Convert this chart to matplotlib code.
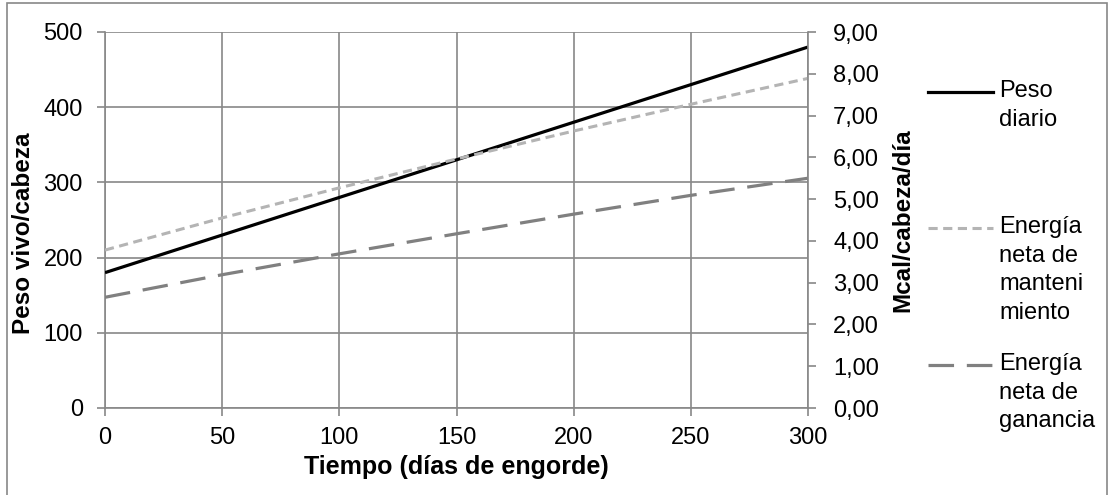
import numpy as np
import matplotlib.pyplot as plt
from matplotlib.lines import Line2D
from matplotlib.patches import Rectangle
from matplotlib.ticker import FuncFormatter

plt.rcParams['font.family'] = ['Liberation Sans', 'DejaVu Sans']

# data
dias = [0, 50, 100, 150, 200, 250, 300]
peso = [180, 230, 280, 330, 380, 430, 480]                    # kg, left axis
en_mant = [3.78, 4.55, 5.27, 5.96, 6.63, 7.27, 7.89]          # Mcal, right axis
en_gan = [2.65, 3.19, 3.69, 4.17, 4.64, 5.09, 5.50]           # Mcal, right axis

series_labels = ['Peso\ndiario', 'Energía\nneta de\nmanteni\nmiento', 'Energía\nneta de\nganancia']

W, H = 1111, 495
fig = plt.figure(figsize=(W / 100, H / 100), dpi=100)
ax = fig.add_axes([105 / W, 1 - 408 / H, (808 - 105) / W, (408 - 32) / H])
ax2 = ax.twinx()

grid_c = '#888888'
c_peso, c_mant, c_gan = 'black', '#b4b4b4', '#808080'

ax.plot(dias, peso, color=c_peso, lw=2.3, solid_capstyle='butt', zorder=3)
ax2.plot(dias, en_mant, color=c_mant, lw=2.2, dashes=(3, 1.8))
ax2.plot(dias, en_gan, color=c_gan, lw=2.3, dashes=(8, 4))

ax.set_xlim(0, 300)
ax.set_ylim(0, 500)
ax2.set_ylim(0, 9)
ax.set_xticks(range(0, 301, 50))
ax.set_yticks(range(0, 501, 100))
ax2.set_yticks(range(0, 10))
ax2.yaxis.set_major_formatter(FuncFormatter(lambda v, p: f'{v:.2f}'.replace('.', ',')))

ax.grid(True, color=grid_c, lw=1.2)
ax.set_axisbelow(True)
for a in (ax, ax2):
    for s in a.spines.values():
        s.set_visible(False)
ax.spines['left'].set_visible(True)
ax.spines['bottom'].set_visible(True)
ax2.spines['right'].set_visible(True)
for s in (ax.spines['left'], ax.spines['bottom'], ax2.spines['right']):
    s.set_color(grid_c)
    s.set_linewidth(1.2)

ax.tick_params(axis='both', length=6, width=1.2, color=grid_c, labelsize=17, pad=10)
ax2.tick_params(axis='y', length=6, width=1.2, color=grid_c, labelsize=17, pad=12)
ax.tick_params(axis='x', pad=8)

ax.set_xlabel('Tiempo (días de engorde)', fontsize=18, fontweight='bold', labelpad=4)
ax.set_ylabel('Peso vivo/cabeza', fontsize=17.5, fontweight='bold')
ax.yaxis.set_label_coords(-70 / 703, 0.464)
ax2.set_ylabel('Mcal/cabeza/día', fontsize=17.5, fontweight='bold')
ax2.yaxis.set_label_coords((891 - 105) / 703, 0.5)

# legend drawn by hand, handle next to first text line
leg_rows = [92, 228, 365]
leg_styles = [dict(color=c_peso, lw=2.3), dict(color=c_mant, lw=2.2, dashes=(3, 1.8)),
              dict(color=c_gan, lw=2.3, dashes=(8, 4))]
for y, lab, st in zip(leg_rows, series_labels, leg_styles):
    fig.add_artist(Line2D([928 / W, 993 / W], [1 - y / H, 1 - y / H], **st))
    fig.text(999 / W, 1 - (y - 12) / H, lab, fontsize=17, va='top', ha='left', linespacing=1.39)

# outer chart border
fig.add_artist(Rectangle((7 / W, -0.01), (1107 - 7) / W, 1 - 3 / H + 0.01,
                         fill=False, edgecolor=grid_c, lw=1.2, transform=fig.transFigure))

fig.savefig('out.png', dpi=100)
